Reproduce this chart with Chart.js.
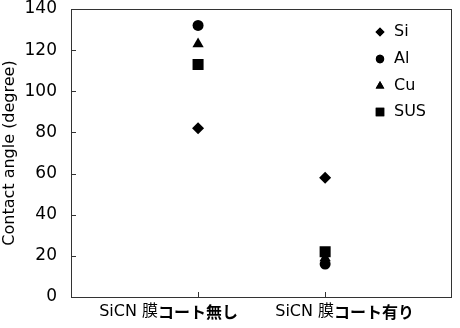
<!DOCTYPE html>
<html><head><meta charset="utf-8">
<script src="https://cdn.jsdelivr.net/npm/chart.js@4/dist/chart.umd.min.js"></script>
<style>html,body{margin:0;padding:0;background:#fff}#wrap{width:460px;height:328px}</style>
</head><body><div id="wrap"><canvas id="c" width="460" height="328"></canvas></div>
<script>
const categories = ['SiCN 膜コート無し', 'SiCN 膜コート有り'];
const labelNormal = ['SiCN 膜', 'SiCN 膜'];
const labelBold = ['コート無し', 'コート有り'];
const seriesNames = ['Si', 'Al', 'Cu', 'SUS'];
const siValues = [82, 58];
const alValues = [132, 16];
const cuValues = [123, 19];
const susValues = [113, 22];
const yTicks = [0, 20, 40, 60, 80, 100, 120, 140];

const styles = [
  {pointStyle: 'rectRot', r: 6, lr: 4.5},
  {pointStyle: 'circle', r: 5.5, lr: 4.2},
  {pointStyle: 'triangle', r: 6.5, lr: 5},
  {pointStyle: 'rect', r: 7.8, lr: 6}
];
const allValues = [siValues, alValues, cuValues, susValues];
const labelShift = [-29.5, 19.5];

const datasets = seriesNames.map((n, i) => ({
  label: n,
  data: allValues[i].map((v, j) => ({x: j + 1, y: v})),
  pointStyle: styles[i].pointStyle,
  pointRadius: styles[i].r,
  pointHoverRadius: styles[i].r,
  backgroundColor: '#000',
  borderColor: '#000',
  borderWidth: 0,
  showLine: false
}));

const FONT = 'DejaVu Sans';
const framePlugin = {
  id: 'frame',
  afterDraw(chart) {
    const {ctx, chartArea: a, scales} = chart;
    ctx.save();
    ctx.strokeStyle = '#333';
    ctx.lineWidth = 1;
    ctx.strokeRect(Math.round(a.left) + 0.5, Math.round(a.top) + 0.5, Math.round(a.right - a.left) - 1, Math.round(a.bottom - a.top));
    ctx.beginPath();
    yTicks.forEach(t => {
      const y = Math.round(scales.y.getPixelForValue(t)) + 0.5;
      ctx.moveTo(a.left, y); ctx.lineTo(a.left + 5, y);
    });
    [1, 2].forEach(t => {
      const x = Math.round(scales.x.getPixelForValue(t)) + 0.5;
      ctx.moveTo(x, a.bottom); ctx.lineTo(x, a.bottom - 5);
    });
    ctx.stroke();
    ctx.fillStyle = '#000';
    ctx.textBaseline = 'middle';
    const fN = '16px "DejaVu Sans", "Noto Sans CJK JP"';
    const fB = 'bold 16px "Noto Sans CJK JP"';
    categories.forEach((c, i) => {
      const x = scales.x.getPixelForValue(i + 1) + labelShift[i];
      ctx.font = fN;
      const w1 = ctx.measureText(labelNormal[i]).width;
      ctx.font = fB;
      const w2 = ctx.measureText(labelBold[i]).width;
      const sx = x - (w1 + w2) / 2;
      ctx.textAlign = 'left';
      ctx.font = fN;
      ctx.fillText(labelNormal[i], sx, 312);
      ctx.font = fB;
      ctx.fillText(labelBold[i], sx + w1, 312);
    });
    const lx = 380, tx = 394, ly = [32, 59, 86, 112];
    ctx.font = '16px "' + FONT + '"';
    seriesNames.forEach((n, i) => {
      Chart.helpers.drawPoint(ctx, {pointStyle: styles[i].pointStyle, radius: styles[i].lr, rotation: 0, borderWidth: 0}, lx, ly[i]);
      ctx.fillStyle = '#000';
      ctx.fill();
      ctx.textAlign = 'left';
      ctx.fillText(n, tx, ly[i]);
    });
    ctx.restore();
  }
};

new Chart(document.getElementById('c'), {
  type: 'scatter',
  data: {datasets},
  options: {
    responsive: false,
    animation: false,
    events: [],
    layout: {padding: {top: 9, right: 5, left: 0, bottom: 0}},
    plugins: {legend: {display: false}, tooltip: {enabled: false}},
    scales: {
      x: {
        type: 'linear', min: 0, max: 3,
        grid: {display: false},
        border: {display: false},
        ticks: {display: false},
        afterFit(s) { s.height = 31; s.paddingLeft = 0; s.paddingRight = 0; }
      },
      y: {
        min: 0, max: 140,
        afterBuildTicks(s) { s.ticks = yTicks.map(v => ({value: v})); },
        grid: {display: false, drawTicks: false, tickLength: 0},
        border: {display: false},
        ticks: {color: '#000', font: {family: FONT, size: 17}, padding: 14},
        title: {display: true, text: 'Contact angle (degree)', color: '#000', font: {family: FONT, size: 16}, padding: 0},
        afterFit(s) { s.width = 71; s.paddingTop = 0; s.paddingBottom = 0; }
      }
    }
  },
  plugins: [framePlugin]
});
</script></body></html>
